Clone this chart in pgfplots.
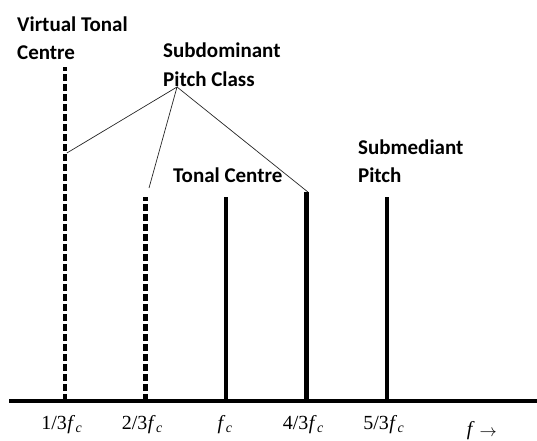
\documentclass[border=0pt]{standalone}
\usepackage{pgfplots}
\pgfplotsset{compat=1.18}
\usepackage{fontspec}
\setmainfont{Liberation Serif}
\newfontfamily\lab{Carlito}
\newcommand{\fc}{\kern0.5bp\textit{f}\kern0.5bp\raisebox{-3bp}{\fontsize{14bp}{14bp}\selectfont\textit{c}}}
\begin{document}
\begin{tikzpicture}
\begin{axis}[scale only axis, width=537bp, height=441bp,
  xmin=0.0650, xmax=2.2886, ymin=-40, ymax=401,
  axis lines=none, clip=false]
% baseline (frequency axis)
\draw[line width=4.5bp] (axis cs:0.1023,0) -- (axis cs:2.2886,0);
% virtual / subdominant components (dashed)
\addplot[ycomb, mark=none, line width=4.5bp, dash pattern=on 6.5bp off 3.5bp]
  coordinates {(0.3333,334) (0.6667,204)};
% real components (solid)
\addplot[ycomb, mark=none, line width=4.5bp]
  coordinates {(1,204) (1.3333,209) (1.6667,204)};
% annotation lines
\draw[black!85, line width=0.7bp] (axis cs:0.342,248) -- (axis cs:0.798,314) -- (axis cs:0.682,213);
\draw[black!85, line width=0.7bp] (axis cs:0.798,314) -- (axis cs:1.340,209);
% labels
\begin{scope}[every node/.style={inner sep=0pt, anchor=base west, font=\lab\bfseries\fontsize{21bp}{24bp}\selectfont}]
\node at (axis cs:0.1354,369) {Virtual Tonal};
\node at (axis cs:0.1354,341) {Centre};
\node at (axis cs:0.740,343) {Subdominant};
\node at (axis cs:0.740,314) {Pitch Class};
\node at (axis cs:0.781,218) {Tonal Centre};
\node at (axis cs:1.547,246) {Submediant};
\node at (axis cs:1.547,218) {Pitch};
\end{scope}
% tick labels
\begin{scope}[every node/.style={inner sep=0pt, anchor=base, font=\fontsize{20bp}{22bp}\selectfont}]
\node at (axis cs:0.3200,-28) {1/3\fc};
\node at (axis cs:0.6533,-28) {2/3\fc};
\node at (axis cs:0.9950,-28) {\fc};
\node at (axis cs:1.3200,-28) {4/3\fc};
\node at (axis cs:1.6533,-28) {5/3\fc};
\node at (axis cs:2.0600,-34) {\textit{f}\kern5bp\raisebox{-1bp}{\fontsize{18bp}{18bp}\selectfont$\rightarrow$}};
\end{scope}
\end{axis}
\pgfresetboundingbox
\path (current axis.south west) rectangle (current axis.north east);
\end{tikzpicture}
\end{document}
